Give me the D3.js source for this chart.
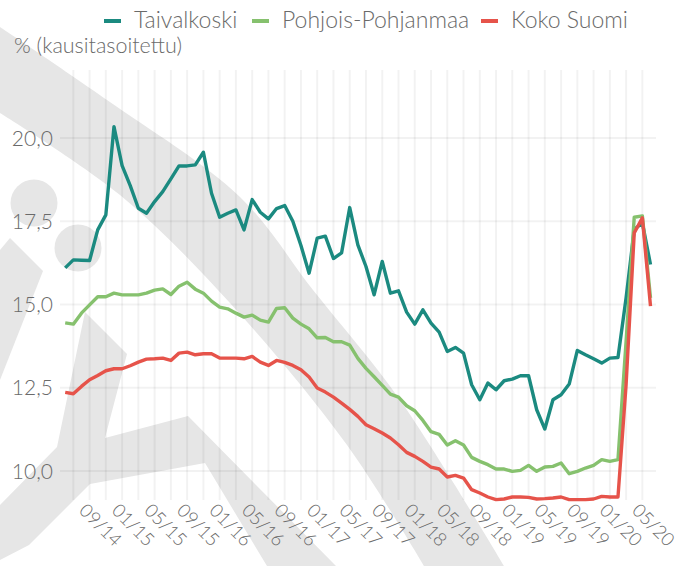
<!DOCTYPE html>
<html>
<head>
<meta charset="utf-8">
<script src="https://cdn.jsdelivr.net/npm/d3@7"></script>
<style>
  body { margin: 0; background: #fff; }
  svg text { font-family: Lato, "Open Sans", sans-serif; font-weight: 300; fill: #6a6a6a; }
</style>
</head>
<body>
<div id="main"></div>
<script>
// monthly, 05/14 .. 05/20
var months = d3.utcMonth.range(new Date(Date.UTC(2014, 4, 1)), new Date(Date.UTC(2020, 5, 1)));
var seriesNames = ["Taivalkoski", "Pohjois-Pohjanmaa", "Koko Suomi"];
var seriesColors = ["#1b8a80", "#86c16e", "#e6534a"];

var taivalkoski = [16.10, 16.34, 16.33, 16.32, 17.24, 17.69, 20.34, 19.17, 18.57, 17.89,
  17.74, 18.09, 18.39, 18.77, 19.16, 19.16, 19.19, 19.57, 18.34, 17.62,
  17.74, 17.84, 17.24, 18.15, 17.77, 17.57, 17.88, 17.97, 17.50, 16.77,
  15.94, 16.99, 17.05, 16.38, 16.55, 17.91, 16.79, 16.14, 15.29, 16.29,
  15.34, 15.41, 14.77, 14.41, 14.84, 14.44, 14.17, 13.59, 13.71, 13.54,
  12.59, 12.14, 12.64, 12.44, 12.71, 12.76, 12.86, 12.86, 11.84, 11.26,
  12.14, 12.29, 12.61, 13.62, 13.49, 13.37, 13.24, 13.39, 13.41, 15.20,
  17.25, 17.45, 16.20];

var pohjoisPohjanmaa = [14.45, 14.41, 14.74, 14.99, 15.23, 15.23, 15.34, 15.29, 15.29, 15.29,
  15.34, 15.43, 15.47, 15.30, 15.55, 15.67, 15.46, 15.34, 15.10, 14.92,
  14.87, 14.74, 14.62, 14.68, 14.53, 14.47, 14.88, 14.90, 14.59, 14.41,
  14.27, 14.00, 14.01, 13.88, 13.88, 13.78, 13.38, 13.08, 12.83, 12.57,
  12.31, 12.22, 11.96, 11.81, 11.52, 11.18, 11.10, 10.78, 10.91, 10.78,
  10.41, 10.29, 10.19, 10.06, 10.06, 9.99, 10.02, 10.17, 9.99, 10.12,
  10.14, 10.24, 9.92, 9.99, 10.09, 10.17, 10.34, 10.29, 10.34, 13.90,
  17.62, 17.66, 15.20];

var kokoSuomi = [12.36, 12.32, 12.54, 12.74, 12.87, 13.01, 13.07, 13.07, 13.16, 13.27,
  13.36, 13.37, 13.39, 13.32, 13.54, 13.57, 13.49, 13.52, 13.52, 13.39,
  13.39, 13.39, 13.37, 13.44, 13.27, 13.17, 13.32, 13.26, 13.17, 13.04,
  12.82, 12.49, 12.37, 12.22, 12.04, 11.85, 11.64, 11.39, 11.27, 11.14,
  10.99, 10.79, 10.56, 10.44, 10.29, 10.12, 10.06, 9.82, 9.87, 9.79,
  9.44, 9.34, 9.22, 9.14, 9.16, 9.22, 9.22, 9.21, 9.16, 9.17,
  9.19, 9.22, 9.14, 9.14, 9.14, 9.16, 9.24, 9.22, 9.22, 12.60,
  17.15, 17.60, 14.95];

var yTicks = [10, 12.5, 15, 17.5, 20];
var xTickLabels = ["09/14", "01/15", "05/15", "09/15", "01/16", "05/16", "09/16", "01/17", "05/17",
  "09/17", "01/18", "05/18", "09/18", "01/19", "05/19", "09/19", "01/20", "05/20"];

var width = 694, height = 566;
var fmtMonth = d3.utcFormat("%m/%y");
var fmtNum = d3.format(".1f");

var xScale = d3.scalePoint().domain(months.map(fmtMonth)).range([65.2, 650.5]);
var yScale = d3.scaleLinear().domain([9.13, 22.04]).range([500, 70]);

var svg = d3.select("#main")
  .append("svg")
  .attr("width", width)
  .attr("height", height);

// background watermark (logo), decoration only
var wm = svg.append("g").attr("fill", "#e6e6e6");
var smooth = d3.line().curve(d3.curveCatmullRom);
var bandOuter = [[0, 27], [107, 100], [240, 197], [313, 290], [400, 400], [504, 566]];
var bandInner = [[424, 566], [347, 445], [230, 303], [120, 195], [0, 113]];
wm.append("path")
  .attr("d", smooth(bandOuter) + "L" + smooth(bandInner).slice(1) + "Z");
wm.selectAll("circle")
  .data([[34, 203], [78, 248]])
  .enter().append("circle")
  .attr("cx", d => d[0])
  .attr("cy", d => d[1])
  .attr("r", 23.5);
wm.append("path")
  .attr("d", "M0,250L10,238L43,271L0,380Z");
wm.append("path")
  .attr("d", "M85,312L127,354L105,438L188,416L336,566L267,566L205,463L90,484L29,545L0,560L0,505L57,447Z");

// gridlines
var grid = svg.append("g").attr("stroke", "rgba(0,0,0,0.05)").attr("stroke-width", 2);
grid.selectAll("line.v")
  .data(months.filter((d, i) => i % 2 == 1))
  .enter().append("line")
  .attr("x1", d => xScale(fmtMonth(d)))
  .attr("x2", d => xScale(fmtMonth(d)))
  .attr("y1", 70)
  .attr("y2", 500);
grid.selectAll("line.h")
  .data(yTicks)
  .enter().append("line")
  .attr("x1", 60)
  .attr("x2", 656)
  .attr("y1", d => yScale(d))
  .attr("y2", d => yScale(d));

// y labels
svg.append("g")
  .selectAll("text")
  .data(yTicks)
  .enter().append("text")
  .attr("x", 53)
  .attr("y", d => yScale(d))
  .attr("dy", "0.36em")
  .attr("text-anchor", "end")
  .style("font-size", "21px")
  .text(d => fmtNum(d).replace(".", ","));

// x labels
svg.append("g")
  .selectAll("text")
  .data(xTickLabels)
  .enter().append("text")
  .attr("transform", d => "translate(" + (xScale(d) + 3) + ",525) rotate(45)")
  .attr("text-anchor", "middle")
  .attr("dy", "0.35em")
  .style("font-size", "18.5px")
  .text(d => d);

// lines
var line = d3.line()
  .x((d, i) => xScale(fmtMonth(months[i])))
  .y(d => yScale(d));

svg.append("g")
  .selectAll("path")
  .data([taivalkoski, pohjoisPohjanmaa, kokoSuomi])
  .enter().append("path")
  .attr("d", d => line(d))
  .attr("fill", "none")
  .attr("stroke", (d, i) => seriesColors[i])
  .attr("stroke-width", 3.4)
  .attr("stroke-linejoin", "round");

// legend
var legendX = [104, 252, 481];
var legend = svg.append("g")
  .selectAll("g")
  .data(seriesNames)
  .enter().append("g")
  .attr("transform", (d, i) => "translate(" + legendX[i] + ",20)");
legend.append("rect")
  .attr("x", 0)
  .attr("y", -1)
  .attr("width", 17)
  .attr("height", 4)
  .attr("fill", (d, i) => seriesColors[i]);
legend.append("text")
  .attr("x", 30)
  .attr("dy", "0.35em")
  .style("font-size", "23px")
  .text(d => d);

svg.append("text")
  .attr("x", 14)
  .attr("y", 45)
  .attr("dy", "0.35em")
  .style("font-size", "21.5px")
  .text("% (kausitasoitettu)");
</script>
</body>
</html>
